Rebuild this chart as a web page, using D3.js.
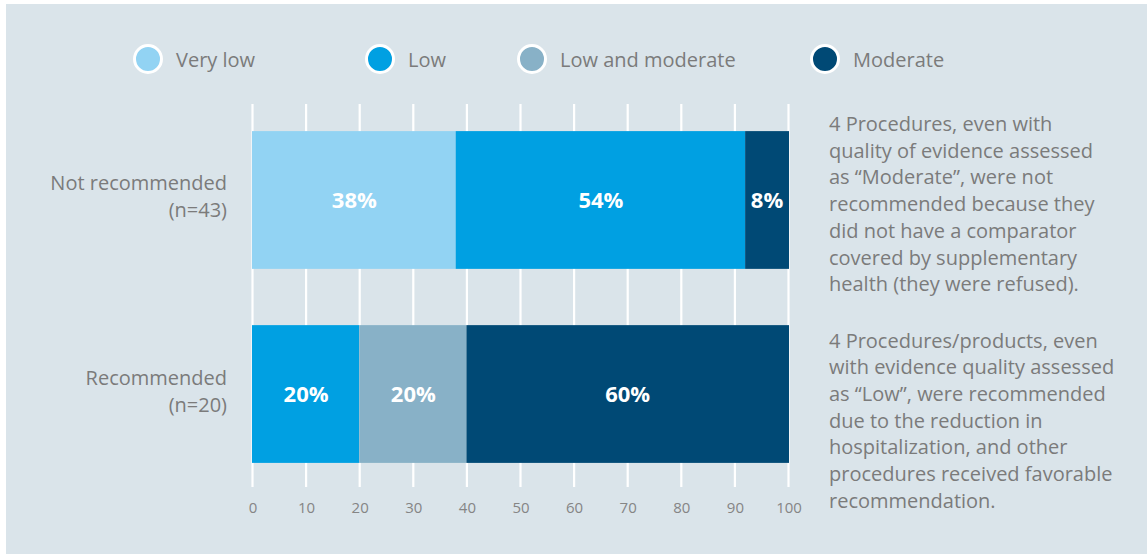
<!DOCTYPE html>
<html>
<head>
<meta charset="utf-8">
<script src="https://cdn.jsdelivr.net/npm/d3@7"></script>
<style>
  html, body { margin: 0; padding: 0; background: #ffffff; }
  svg { display: block; font-family: "Open Sans", "Noto Sans", sans-serif; }
</style>
</head>
<body>
<svg id="chart" width="1147" height="554"></svg>
<script>
// Recommendation outcome by quality of evidence (percent of procedures)
const categories = ["Not recommended", "Recommended"];
const counts = [43, 20];
const seriesNames = ["Very low", "Low", "Low and moderate", "Moderate"];
const veryLow = [38, 0];
const low = [54, 20];
const lowModerate = [0, 20];
const moderate = [8, 60];
const xTicks = [0, 10, 20, 30, 40, 50, 60, 70, 80, 90, 100];
const notes = [
  ["4 Procedures, even with", "quality of evidence assessed", "as \u201cModerate\u201d, were not",
   "recommended because they", "did not have a comparator", "covered by supplementary",
   "health (they were refused)."],
  ["4 Procedures/products, even", "with evidence quality assessed", "as \u201cLow\u201d, were recommended",
   "due to the reduction in", "hospitalization, and other", "procedures received favorable",
   "recommendation."]
];

const colors = ["#92d3f3", "#00a0e2", "#88b1c7", "#004975"];
const bg = "#dae4ea";
const textGrey = "#7b7b7b";

const svg = d3.select("#chart");
const W = 1147, H = 554;

// panel background
svg.append("rect").attr("x", 6).attr("y", 4).attr("width", W - 6).attr("height", H - 4).attr("fill", bg);

const rows = categories.map((c, i) => ({
  category: c, n: counts[i],
  "Very low": veryLow[i], "Low": low[i], "Low and moderate": lowModerate[i], "Moderate": moderate[i]
}));
const stacked = d3.stack().keys(seriesNames)(rows);

const x = d3.scaleLinear().domain([0, 100]).range([252.5, 788.5]);
const y = d3.scaleBand().domain(categories).range([102, 492]).paddingInner(0.29).paddingOuter(0.15);

// vertical gridlines
svg.append("g").selectAll("line").data(xTicks).join("line")
  .attr("x1", d => x(d)).attr("x2", d => x(d))
  .attr("y1", 104).attr("y2", 487)
  .attr("stroke", "#ffffff").attr("stroke-width", 2.2);

// x axis labels
const xAxis = d3.axisBottom(x).tickValues(xTicks).tickSize(0).tickPadding(0).tickFormat(d3.format("d"));
const gx = svg.append("g").attr("transform", "translate(0,513)").call(xAxis);
gx.select(".domain").remove();
gx.selectAll("text").attr("fill", "#858585").attr("font-size", 15)
  .attr("font-family", "'Open Sans', sans-serif").attr("dy", 0);

// stacked bars
const layer = svg.append("g").selectAll("g").data(stacked).join("g")
  .attr("fill", (d, i) => colors[i]);
layer.selectAll("rect").data(d => d.map(s => ({ s, key: d.key }))).join("rect")
  .attr("x", d => x(d.s[0]) - 0.5)
  .attr("width", d => Math.max(0, x(d.s[1]) - x(d.s[0])) + (d.s[1] >= 100 ? 1 : 0))
  .attr("y", d => y(d.s.data.category))
  .attr("height", y.bandwidth());

// value labels
const labels = [];
stacked.forEach(ser => ser.forEach(s => {
  const v = s[1] - s[0];
  if (v > 0) labels.push({ v, cx: x((s[0] + s[1]) / 2), cy: y(s.data.category) + y.bandwidth() / 2 });
}));
svg.append("g").selectAll("text").data(labels).join("text")
  .attr("x", d => d.cx).attr("y", d => d.cy - 1)
  .attr("text-anchor", "middle").attr("dominant-baseline", "central")
  .attr("fill", "#ffffff").attr("font-weight", 700).attr("font-size", 22)
  .text(d => d.v + "%");

// category labels
const catG = svg.append("g");
rows.forEach(r => {
  const cy = y(r.category) + y.bandwidth() / 2;
  const t = catG.append("text").attr("text-anchor", "end").attr("fill", textGrey).attr("font-size", 20);
  t.append("tspan").attr("x", 227).attr("y", cy - 17).attr("dominant-baseline", "central").text(r.category);
  t.append("tspan").attr("x", 227).attr("y", cy + 10).attr("dominant-baseline", "central").text("(n=" + r.n + ")");
});

// legend
const legendCx = [148, 380, 532, 825];
const lg = svg.append("g").selectAll("g").data(seriesNames).join("g")
  .attr("transform", (d, i) => `translate(${legendCx[i]},59)`);
lg.append("circle").attr("r", 13.5).attr("fill", (d, i) => colors[i])
  .attr("stroke", "#ffffff").attr("stroke-width", 3);
lg.append("text").attr("x", 28).attr("y", 0).attr("dominant-baseline", "central")
  .attr("fill", textGrey).attr("font-size", 20).text(d => d);

// side notes
const noteTop = [123.5, 340];
notes.forEach((lines, k) => {
  svg.append("g").selectAll("text").data(lines).join("text")
    .attr("x", 829).attr("y", (d, i) => noteTop[k] + i * 26.7)
    .attr("dominant-baseline", "central")
    .attr("fill", textGrey).attr("font-size", 20).text(d => d);
});
</script>
</body>
</html>
